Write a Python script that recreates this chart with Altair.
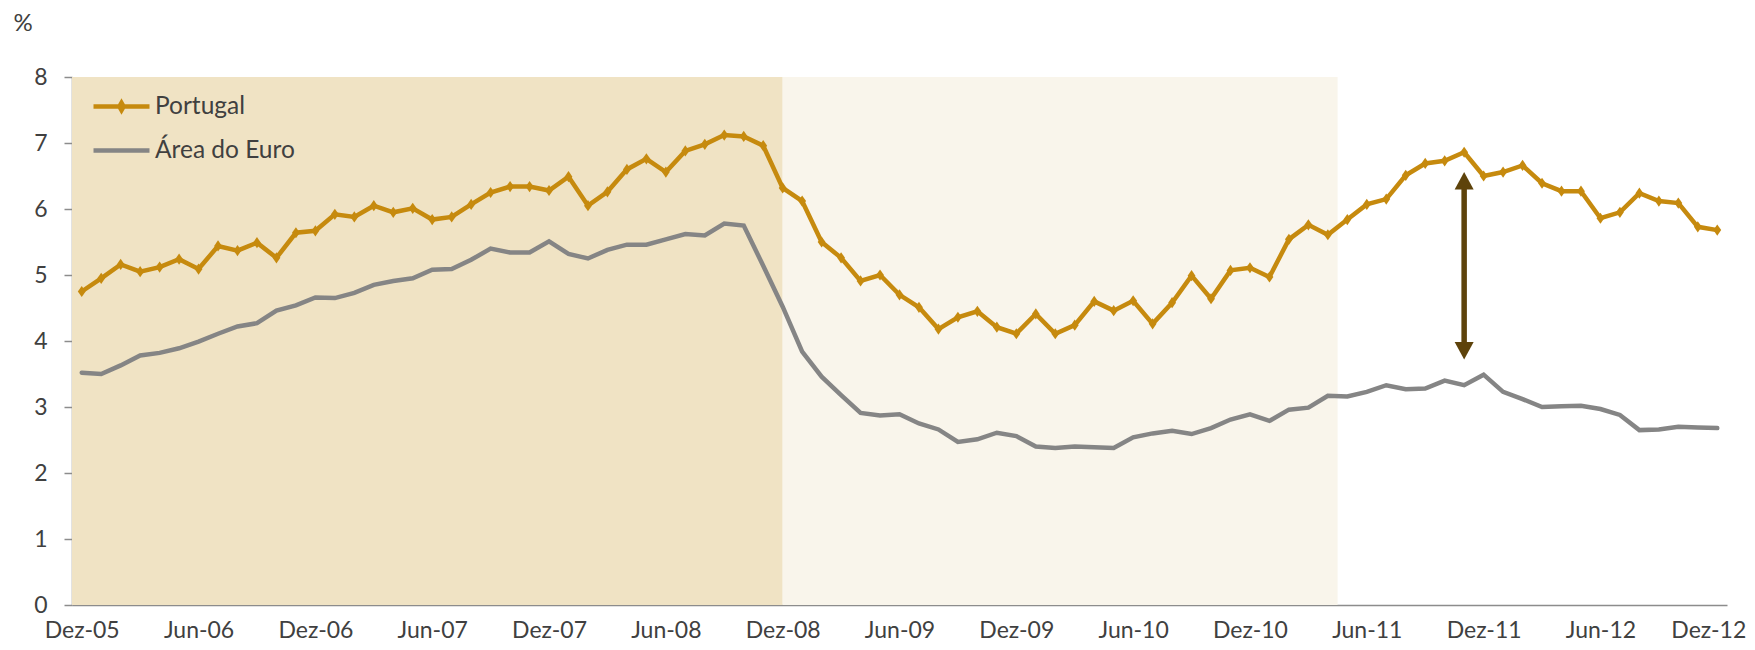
import json
import altair as alt
import pandas as pd

# ---------------- data ----------------
month_abbr = ["Jan", "Fev", "Mar", "Abr", "Mai", "Jun", "Jul", "Ago", "Set", "Out", "Nov", "Dez"]
months = ["Dez-05"] + [f"{m}-{y:02d}" for y in range(6, 13) for m in month_abbr]

tick_labels = ["Dez-05", "Jun-06", "Dez-06", "Jun-07", "Dez-07", "Jun-08", "Dez-08",
               "Jun-09", "Dez-09", "Jun-10", "Dez-10", "Jun-11", "Dez-11", "Jun-12", "Dez-12"]

portugal = [4.75, 4.95, 5.16, 5.05, 5.12, 5.24, 5.09, 5.44, 5.37, 5.49, 5.26, 5.64,
            5.67, 5.92, 5.88, 6.05, 5.95, 6.01, 5.84, 5.88, 6.07, 6.25, 6.34, 6.34,
            6.28, 6.49, 6.05, 6.26, 6.60, 6.76, 6.56, 6.88, 6.98, 7.12, 7.10, 6.96,
            6.32, 6.12, 5.50, 5.26, 4.91, 5.00, 4.70, 4.51, 4.18, 4.36, 4.45, 4.21,
            4.11, 4.41, 4.11, 4.24, 4.60, 4.46, 4.61, 4.26, 4.58, 4.99, 4.64, 5.07,
            5.11, 4.97, 5.54, 5.76, 5.61, 5.84, 6.07, 6.15, 6.51, 6.69, 6.73, 6.86,
            6.50, 6.56, 6.66, 6.39, 6.27, 6.27, 5.86, 5.95, 6.24, 6.12, 6.09, 5.73,
            5.68]

area_euro = [3.52, 3.50, 3.63, 3.78, 3.82, 3.89, 3.99, 4.11, 4.22, 4.27, 4.46, 4.54,
             4.66, 4.65, 4.73, 4.85, 4.91, 4.95, 5.08, 5.09, 5.23, 5.40, 5.34, 5.34,
             5.51, 5.32, 5.25, 5.38, 5.46, 5.46, 5.54, 5.62, 5.60, 5.78, 5.75, 5.14,
             4.52, 3.84, 3.46, 3.18, 2.91, 2.87, 2.89, 2.75, 2.66, 2.47, 2.51, 2.61,
             2.56, 2.40, 2.38, 2.40, 2.39, 2.38, 2.54, 2.60, 2.64, 2.59, 2.68, 2.81,
             2.89, 2.79, 2.96, 2.99, 3.17, 3.16, 3.23, 3.33, 3.27, 3.28, 3.40, 3.33,
             3.49, 3.23, 3.12, 3.00, 3.01, 3.02, 2.97, 2.88, 2.65, 2.66, 2.70, 2.69,
             2.68]

series_names = ["Portugal", "Área do Euro"]

# shaded periods (month index bounds)
shade_dark = [-0.5, 36.0]
shade_light = [36.0, 64.5]

# arrow annotation
arrow_month = "Nov-11"
arrow_top = 6.56
arrow_bottom = 3.72

# ---------------- styles ----------------
GOLD = "#C68A0E"
GREY = "#858585"
DARK_SHADE = "#F0E3C4"
LIGHT_SHADE = "#F9F5EB"
ARROW = "#5E430B"
TEXT = "#404040"
AXIS = "#8C8C8C"
FONT = "Lato"

W, H = 1655, 528
SYM = 3136  # legend symbol / marker area (path units scaled by 28 px)
LINE_DIAMOND = "M-1,0H1M0,-0.13L0.075,0L0,0.13L-0.075,0Z"
LINE_ONLY = "M-1,0H1"
MARK_DIAMOND = "M0,-0.2L0.14,0L0,0.2L-0.14,0Z"

n = len(months)
df = pd.DataFrame({
    "idx": list(range(n)) * 2,
    "month": months * 2,
    "series": [series_names[0]] * n + [series_names[1]] * n,
    "value": portugal + area_euro,
})

tick_idx = [months.index(t) for t in tick_labels]
x_scale = alt.Scale(domain=[-0.5, n - 0.5], nice=False, zero=False)
x_axis = alt.Axis(values=tick_idx, labelExpr=f"{json.dumps(months)}[datum.value]",
                  title=None, ticks=False, labelPadding=14, labelFlush=False,
                  labelOffset={"condition": {"test": f"datum.value == {n - 1}", "value": -9},
                               "value": 0})
y_scale = alt.Scale(domain=[0, 8], nice=False)
y_axis = alt.Axis(values=list(range(0, 9)), title="%", titleAngle=0, titleAlign="left",
                  titleBaseline="alphabetic", titleX=-59, titleY=-47, titleFontSize=24,
                  titleFontWeight="normal", titleColor=TEXT, titleFont=FONT,
                  tickSize=8, labelPadding=17)

X = alt.X("idx:Q", scale=x_scale, axis=x_axis)
Y = alt.Y("value:Q", scale=y_scale, axis=y_axis)

shade_df = pd.DataFrame({"start": [shade_dark[0], shade_light[0]],
                         "end": [shade_dark[1], shade_light[1]],
                         "fase": ["dark", "light"]})

dark = alt.Chart(shade_df).transform_filter("datum.fase == 'dark'").mark_rect(
    color=DARK_SHADE).encode(x=alt.X("start:Q", scale=x_scale, axis=x_axis), x2="end:Q")
light = alt.Chart(shade_df).transform_filter("datum.fase == 'light'").mark_rect(
    color=LIGHT_SHADE).encode(x=alt.X("start:Q", scale=x_scale, axis=x_axis), x2="end:Q")

leg = alt.Legend(title=None, orient="none", legendX=19, legendY=-1, padding=0,
                 rowPadding=-27, symbolSize=SYM, symbolStrokeWidth=4.5,
                 symbolFillColor=GOLD, labelOffset=3, labelFontSize=24.5,
                 labelFont=FONT, labelColor=TEXT)

line_scale = alt.Scale(domain=series_names, range=[GOLD, GREY])
lines = alt.Chart(df).mark_line(strokeWidth=4.5, strokeCap="round").encode(
    x=X, y=Y,
    color=alt.Color("series:N", scale=line_scale, legend=leg),
    order=alt.Order("idx:Q"), detail="series:N")

# legend symbol shapes (line + diamond / line only)
shape_scale = alt.Scale(domain=series_names, range=[LINE_DIAMOND, LINE_ONLY])
legend_pts = alt.Chart(df).mark_point(filled=True, size=SYM, opacity=1, color=GOLD).encode(
    x=X, y=Y, shape=alt.Shape("series:N", scale=shape_scale, legend=leg))

# diamond markers on the Portugal series
points = alt.Chart(df).transform_filter(f"datum.series == '{series_names[0]}'").mark_point(
    shape=MARK_DIAMOND, filled=True, size=SYM, opacity=1, color=GOLD).encode(x=X, y=Y)

arrow_df = pd.DataFrame({"idx": [months.index(arrow_month)], "top": [arrow_top],
                         "bottom": [arrow_bottom]})
shaft = alt.Chart(arrow_df).transform_calculate(
    t="datum.top - 0.2", b="datum.bottom + 0.2").mark_rule(
    color=ARROW, strokeWidth=5.5).encode(
    x=X, y=alt.Y("t:Q", scale=y_scale, axis=y_axis), y2="b:Q")
head_up = alt.Chart(arrow_df).mark_point(
    shape="M0,0L1,1.85L-1,1.85Z", filled=True, size=361, opacity=1, color=ARROW).encode(
    x=X, y=alt.Y("top:Q", scale=y_scale, axis=y_axis))
head_down = alt.Chart(arrow_df).mark_point(
    shape="M0,0L1,-1.85L-1,-1.85Z", filled=True, size=361, opacity=1, color=ARROW).encode(
    x=X, y=alt.Y("bottom:Q", scale=y_scale, axis=y_axis))

chart = alt.layer(dark, light, lines, legend_pts, points, shaft, head_up, head_down).properties(
    width=W, height=H,
    autosize=alt.AutoSizeParams(type="none"),
    padding={"left": 64, "top": 69, "right": 20, "bottom": 36},
).configure_view(strokeWidth=0).configure_axis(
    labelFont=FONT, labelFontSize=23, labelColor=TEXT, domainColor=AXIS, domainWidth=1.5,
    tickColor=AXIS, tickWidth=1.5, grid=False,
)

chart.save("out.html", embed_options={"renderer": "svg", "actions": False})
